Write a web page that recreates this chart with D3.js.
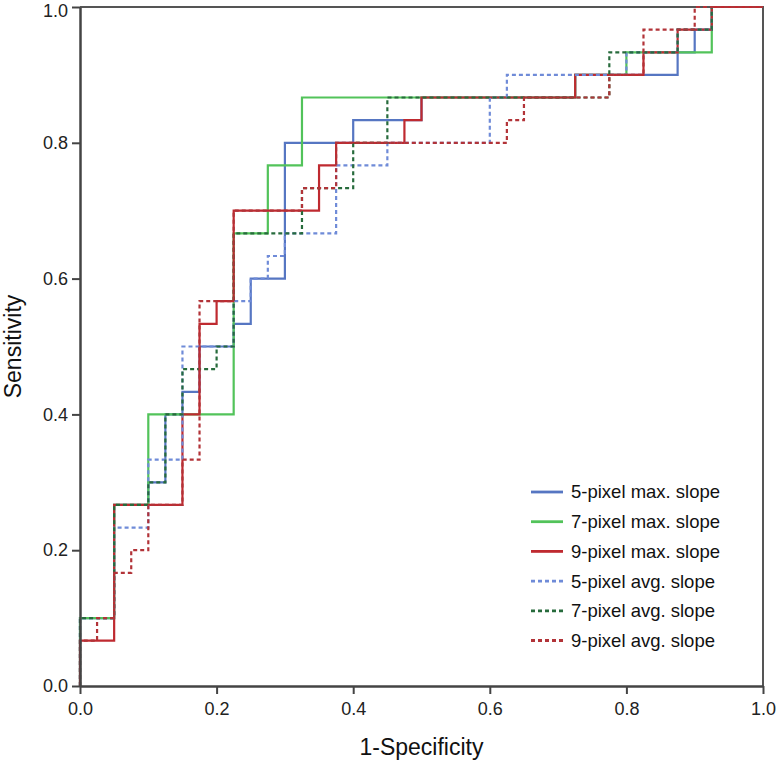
<!DOCTYPE html>
<html>
<head>
<meta charset="utf-8">
<script src="https://cdn.jsdelivr.net/npm/d3@7"></script>
<style>
  html, body { margin: 0; padding: 0; background: #fff; }
  svg { display: block; font-family: "Liberation Sans", Arial, sans-serif; }
</style>
</head>
<body>
<svg id="chart" width="776" height="766"></svg>
<script>
// ---- data (ROC operating points: 1-Specificity, Sensitivity) ----
const seriesNames = ["5-pixel max. slope", "7-pixel max. slope", "9-pixel max. slope",
                     "5-pixel avg. slope", "7-pixel avg. slope", "9-pixel avg. slope"];

const fpr5max = [0, 0, 0.05, 0.1, 0.125, 0.15, 0.175, 0.225, 0.25, 0.3, 0.4, 0.5, 0.725, 0.875, 0.9, 0.925, 1];
const tpr5max = [0, 0.1, 0.2667, 0.3, 0.4, 0.4333, 0.5, 0.5333, 0.6, 0.8, 0.8333, 0.8667, 0.9, 0.9333, 0.9667, 1, 1];

const fpr7max = [0, 0, 0.05, 0.1, 0.225, 0.275, 0.325, 0.725, 0.8, 0.925, 1];
const tpr7max = [0, 0.1, 0.2667, 0.4, 0.6667, 0.7667, 0.8667, 0.9, 0.9333, 1, 1];

const fpr9max = [0, 0, 0.05, 0.15, 0.175, 0.2, 0.225, 0.35, 0.375, 0.475, 0.5, 0.725, 0.825, 0.875, 0.925, 1];
const tpr9max = [0, 0.0667, 0.2667, 0.4, 0.5333, 0.5667, 0.7, 0.7667, 0.8, 0.8333, 0.8667, 0.9, 0.9333, 0.9667, 1, 1];

const fpr5avg = [0, 0, 0.05, 0.1, 0.15, 0.225, 0.25, 0.275, 0.3, 0.375, 0.45, 0.6, 0.625, 0.8, 0.875, 0.925, 1];
const tpr5avg = [0, 0.1, 0.2333, 0.3333, 0.5, 0.5667, 0.6, 0.6333, 0.6667, 0.7667, 0.8, 0.8667, 0.9, 0.9333, 0.9667, 1, 1];

const fpr7avg = [0, 0, 0.05, 0.1, 0.125, 0.15, 0.2, 0.225, 0.325, 0.4, 0.45, 0.775, 0.875, 0.925, 1];
const tpr7avg = [0, 0.1, 0.2667, 0.3, 0.4, 0.4667, 0.5, 0.6667, 0.7333, 0.8, 0.8667, 0.9333, 0.9667, 1, 1];

const fpr9avg = [0, 0, 0.025, 0.05, 0.075, 0.1, 0.15, 0.175, 0.225, 0.325, 0.375, 0.625, 0.65, 0.775, 0.825, 0.9, 1];
const tpr9avg = [0, 0.0667, 0.1, 0.1667, 0.2, 0.2667, 0.3333, 0.5667, 0.7, 0.7333, 0.8, 0.8333, 0.8667, 0.9, 0.9667, 1, 1];

const tickValues = [0, 0.2, 0.4, 0.6, 0.8, 1.0];
const xTitle = "1-Specificity";
const yTitle = "Sensitivity";

// ---- build series table ----
const fprs = [fpr5max, fpr7max, fpr9max, fpr5avg, fpr7avg, fpr9avg];
const tprs = [tpr5max, tpr7max, tpr9max, tpr5avg, tpr7avg, tpr9avg];
const colors = ["#5676c2", "#52c35a", "#bf2a30", "#6f8bd8", "#276b3c", "#b23338"];
const dashes = [null, null, null, "4,3", "4,3", "4,3"];
const series = seriesNames.map((name, i) => ({
  name, color: colors[i], dash: dashes[i],
  points: fprs[i].map((f, j) => [f, tprs[i][j]])
}));

// ---- layout ----
const svg = d3.select("#chart");
const x0 = 80, x1 = 763, y0 = 686, y1 = 7;
const x = d3.scaleLinear().domain([0, 1]).range([x0, x1]);
const y = d3.scaleLinear().domain([0, 1]).range([y0, y1]);

// frame (top & right)
svg.append("path")
  .attr("d", `M${x0},${y1}H${x1}V${y0}`)
  .attr("fill", "none").attr("stroke", "#555").attr("stroke-width", 2);

// curves
const line = d3.line().x(d => x(d[0])).y(d => y(d[1])).curve(d3.curveStepAfter);
svg.append("g").selectAll("path").data(series).join("path")
  .attr("d", d => line(d.points))
  .attr("fill", "none")
  .attr("stroke", d => d.color)
  .attr("stroke-width", 2.2)
  .attr("stroke-dasharray", d => d.dash);

// axes
const fmt = d3.format(".1f");
const gx = svg.append("g").attr("transform", `translate(0,${y0})`)
  .call(d3.axisBottom(x).tickValues(tickValues).tickFormat(fmt).tickSize(8).tickPadding(8).tickSizeOuter(0));
const gy = svg.append("g").attr("transform", `translate(${x0},0)`)
  .call(d3.axisLeft(y).tickValues(tickValues).tickFormat(fmt).tickSize(8).tickPadding(4).tickSizeOuter(0));
[gx, gy].forEach(g => {
  g.select(".domain").attr("stroke", "#444").attr("stroke-width", 2.5);
  g.selectAll(".tick line").attr("stroke", "#444").attr("stroke-width", 2);
  g.selectAll(".tick text").attr("fill", "#222").style("font-size", "18px")
    .style("font-family", '"Liberation Sans", Arial, sans-serif');
});
// keep the top label inside the picture
gy.selectAll(".tick text").filter(d => d === 1).attr("dy", "0.5em");

// axis titles
svg.append("text").attr("x", (x0 + x1) / 2).attr("y", 755)
  .attr("text-anchor", "middle").attr("fill", "#111").style("font-size", "23px").text(xTitle);
svg.append("text").attr("transform", `translate(21,${(y0 + y1) / 2}) rotate(-90)`)
  .attr("text-anchor", "middle").attr("fill", "#111").style("font-size", "23px").text(yTitle);

// legend
const leg = svg.append("g").attr("transform", "translate(531,492)");
const rows = leg.selectAll("g").data(series).join("g")
  .attr("transform", (d, i) => `translate(0,${i * 29.7})`);
rows.append("line").attr("x1", 0).attr("x2", 32).attr("y1", 0).attr("y2", 0)
  .attr("stroke", d => d.color).attr("stroke-width", 2.8)
  .attr("stroke-dasharray", d => d.dash);
rows.append("text").attr("x", 40).attr("y", 0).attr("dy", "0.35em")
  .attr("fill", "#111").style("font-size", "18.5px").text(d => d.name);
</script>
</body>
</html>
